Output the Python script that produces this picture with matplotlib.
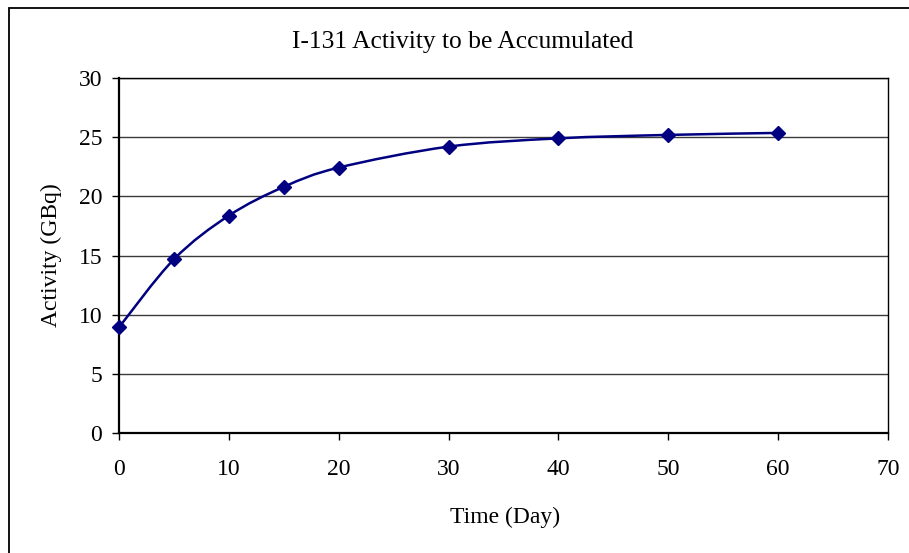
import numpy as np
import matplotlib.pyplot as plt
from matplotlib.path import Path
from matplotlib.patches import PathPatch, Rectangle

# Data
days = [0, 5, 10, 15, 20, 30, 40, 50, 60]
activity = [8.93, 14.68, 18.37, 20.8, 22.43, 24.2, 24.9, 25.19, 25.36]
xticks = [0, 10, 20, 30, 40, 50, 60, 70]
yticks = [0, 5, 10, 15, 20, 25, 30]

plt.rcParams['font.family'] = ['Liberation Serif', 'DejaVu Serif']
navy = '#000080'

fig = plt.figure(figsize=(9.09, 5.53), dpi=100)
ax = fig.add_axes([119 / 909, 1 - 433 / 553, 769 / 909, 355 / 553])

# outer chart border (only left and top show in the picture)
fig.patches.append(Rectangle((9 / 909, -0.1), 1.2, 1 - 8 / 553 + 0.1,
                             transform=fig.transFigure, fill=False,
                             edgecolor='black', linewidth=1.3))

ax.set_xlim(0, 70)
ax.set_ylim(0, 30)
ax.set_xticks(xticks)
ax.set_yticks(yticks)
ax.yaxis.grid(True, color='#3a3a3a', linewidth=1)
ax.set_axisbelow(True)
for s in ['top', 'right']:
    ax.spines[s].set_linewidth(1)
for s in ['left', 'bottom']:
    ax.spines[s].set_linewidth(1.6)
ax.tick_params(axis='both', direction='out', length=5, width=1,
               labelsize=17)
ax.tick_params(axis='y', pad=7)
ax.tick_params(axis='x', pad=14)

# smoothed line (Excel style bezier through the points)
pts = np.column_stack([days, activity]).astype(float)
verts = [pts[0]]
codes = [Path.MOVETO]
n = len(pts)
for i in range(n - 1):
    p0 = pts[max(i - 1, 0)]
    p1 = pts[i]
    p2 = pts[i + 1]
    p3 = pts[min(i + 2, n - 1)]
    c1 = p1 + (p2 - p0) / 6.0
    c2 = p2 - (p3 - p1) / 6.0
    verts += [c1, c2, p2]
    codes += [Path.CURVE4] * 3
ax.add_patch(PathPatch(Path(verts, codes), fill=False, edgecolor=navy,
                       linewidth=1.8, clip_on=False, zorder=3))
ax.plot(days, activity, linestyle='none', marker='D', markersize=7.5,
        color=navy, clip_on=False, zorder=4)

fig.text(463 / 909, 1 - 42 / 553, 'I-131 Activity to be Accumulated',
         ha='center', va='center', fontsize=18.4)
fig.text(505 / 909, 1 - 517 / 553, 'Time (Day)', ha='center', va='center',
         fontsize=17)
fig.text(51 / 909, 1 - 255 / 553, 'Activity (GBq)', ha='center',
         va='center', rotation=90, fontsize=17)

plt.savefig('out.png', dpi=100)
plt.close()
